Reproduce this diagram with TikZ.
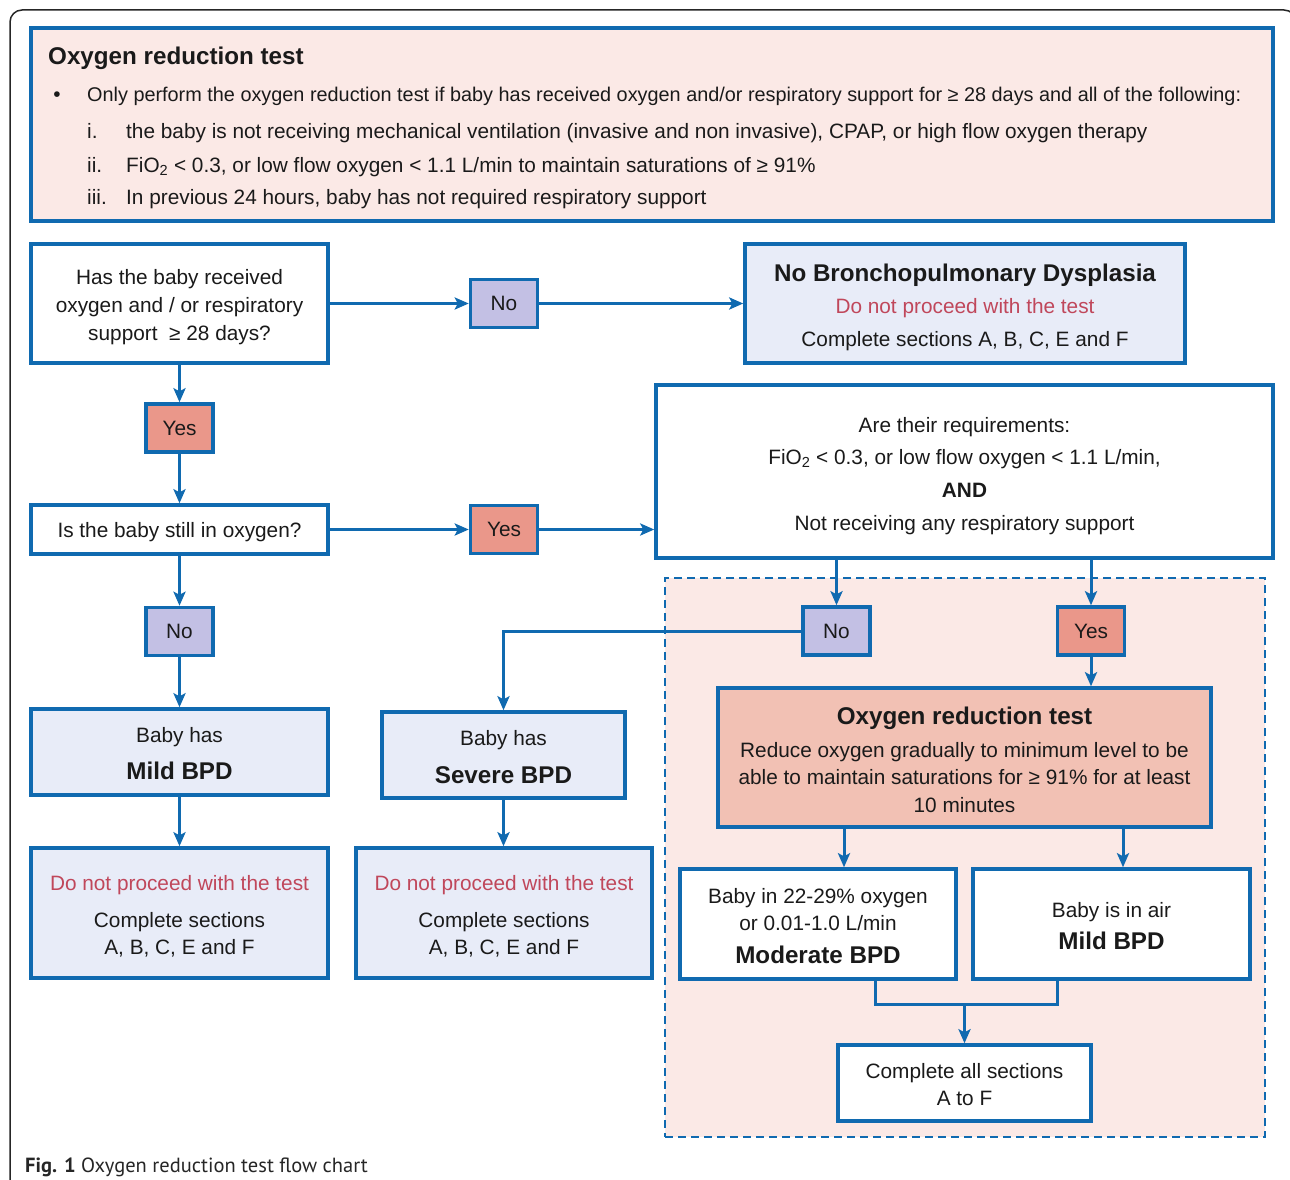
\documentclass[tikz,border=0pt]{standalone}
\usepackage{fontspec}
\setmainfont{Liberation Sans}
\newfontfamily\capfont{PT Sans}
\usetikzlibrary{arrows.meta,calc}
\definecolor{fblue}{RGB}{16,106,176}
\definecolor{pinkbg}{RGB}{251,233,230}
\definecolor{lav}{RGB}{195,192,228}
\definecolor{salmon}{RGB}{234,151,138}
\definecolor{lblue}{RGB}{232,236,248}
\definecolor{ortfill}{RGB}{242,193,180}
\definecolor{redtxt}{RGB}{192,71,91}
\definecolor{txt}{RGB}{26,26,26}
\begin{document}
\begin{tikzpicture}[x=1pt,y=-1pt,
 box/.style={draw=fblue, line width=3.5pt, rectangle, inner sep=0pt},
 tag/.style={box, minimum width=67pt, minimum height=48pt, font=\fontsize{20.8}{24}\selectfont, text=txt},
 yesbox/.style={tag, fill=salmon},
 nobox/.style={tag, fill=lav},
 arr/.style={draw=fblue, line width=3pt, -{Stealth[length=14pt,width=12pt,inset=3pt]}},
 lin/.style={draw=fblue, line width=3pt},
 t/.style={anchor=base, inner sep=0pt, text=txt, font=\fontsize{20.8}{24}\selectfont},
 tb/.style={t, font=\fontsize{24.2}{28}\selectfont\bfseries},
 tr/.style={t, text=redtxt},
]
\useasboundingbox (0,0) rectangle (1290,1180);
\fill[white] (0,0) rectangle (1290,1180);
% outer frame
\draw[line width=1.5pt, color=black!85, rounded corners=12pt] (10,1200) -- (10,10) -- (1296,10) -- (1296,1200);

% top box
\node[box, fill=pinkbg, minimum width=1242pt, minimum height=193pt] (top) at (652,124.5) {};
\node[tb, anchor=base west] (toptitle) at (48,65) {Oxygen reduction test};
\node[t] (bul) at (57,102) {•};
\node[t, anchor=base west, font=\fontsize{19.85}{24}\selectfont] (l0) at (87,102) {Only perform the oxygen reduction test if baby has received oxygen and/or respiratory support for ≥ 28 days and all of the following:};
\node[t, anchor=base west] (n1) at (87,139) {i.};
\node[t, anchor=base west] (l1) at (126,139) {the baby is not receiving mechanical ventilation (invasive and non invasive), CPAP, or high flow oxygen therapy};
\node[t, anchor=base west] (n2) at (87,172) {ii.};
\node[t, anchor=base west] (l2) at (126,172) {FiO\textsubscript{2} < 0.3, or low flow oxygen < 1.1 L/min to maintain saturations of ≥ 91\%};
\node[t, anchor=base west] (n3) at (87,204) {iii.};
\node[t, anchor=base west] (l3) at (126,204) {In previous 24 hours, baby has not required respiratory support};

% dashed region
\node[draw=fblue, fill=pinkbg, dash pattern=on 8pt off 5pt, line width=2.5pt, rectangle, minimum width=600pt, minimum height=559pt, inner sep=0pt] (region) at (965,857.5) {};

% box 1
\node[box, fill=white, minimum width=297pt, minimum height=119pt] (b1) at (179.5,303.5) {};
\node[t] (b1a) at (179.5,284) {Has the baby received};
\node[t] (b1b) at (179.5,312) {oxygen and / or respiratory};
\node[t] (b1c) at (179.5,340) {support \ ≥ 28 days?};

\node[nobox] (no1) at (504,303.5) {No};

% NBD
\node[box, fill=lblue, minimum width=440pt, minimum height=119pt] (nbd) at (965,303.5) {};
\node[tb] (nbda) at (965,281.5) {No Bronchopulmonary Dysplasia};
\node[tr] (nbdb) at (965,313) {Do not proceed with the test};
\node[t] (nbdc) at (965,346) {Complete sections A, B, C, E and F};

\node[yesbox] (yes1) at (179.5,428) {Yes};

% box 2
\node[box, fill=white, minimum width=297pt, minimum height=49pt] (b2) at (179.5,529.5) {};
\node[t] (b2a) at (179.5,537) {Is the baby still in oxygen?};

\node[yesbox] (yes2) at (504,529.5) {Yes};

% box 3
\node[box, fill=white, minimum width=617pt, minimum height=173pt] (b3) at (964.5,471.5) {};
\node[t] (b3a) at (964.5,432) {Are their requirements:};
\node[t] (b3b) at (964.5,464) {FiO\textsubscript{2} < 0.3, or low flow oxygen < 1.1 L/min,};
\node[t, font=\fontsize{20.8}{24}\selectfont\bfseries] (b3c) at (964.5,497) {AND};
\node[t] (b3d) at (964.5,530) {Not receiving any respiratory support};

\node[nobox] (no2) at (179.5,631.5) {No};
\node[nobox] (no3) at (836.5,631) {No};
\node[yesbox] (yes3) at (1091,631) {Yes};

% mild / severe
\node[box, fill=lblue, minimum width=297pt, minimum height=86pt] (mild) at (179.5,752) {};
\node[t] (milda) at (179.5,742) {Baby has};
\node[tb] (mildb) at (179.5,779.5) {Mild BPD};
\node[box, fill=lblue, minimum width=243pt, minimum height=86pt] (sev) at (503.5,755) {};
\node[t] (seva) at (503.5,745) {Baby has};
\node[tb] (sevb) at (503.5,783.5) {Severe BPD};

% do not proceed boxes
\node[box, fill=lblue, minimum width=297pt, minimum height=130pt] (dnp1) at (179.5,913) {};
\node[tr] (dnp1a) at (179.5,890) {Do not proceed with the test};
\node[t] (dnp1b) at (179.5,927) {Complete sections};
\node[t] (dnp1c) at (179.5,954) {A, B, C, E and F};
\node[box, fill=lblue, minimum width=296pt, minimum height=130pt] (dnp2) at (504,913) {};
\node[tr] (dnp2a) at (504,890) {Do not proceed with the test};
\node[t] (dnp2b) at (504,927) {Complete sections};
\node[t] (dnp2c) at (504,954) {A, B, C, E and F};

% oxygen reduction test
\node[box, fill=ortfill, minimum width=493pt, minimum height=139pt] (ort) at (964.5,757.5) {};
\node[tb] (orta) at (964.5,724.5) {Oxygen reduction test};
\node[t] (ortb) at (964.5,757) {Reduce oxygen gradually to minimum level to be};
\node[t] (ortc) at (964.5,784) {able to maintain saturations for ≥ 91\% for at least};
\node[t] (ortd) at (964.5,812) {10 minutes};

% outcomes
\node[box, fill=white, minimum width=276pt, minimum height=110pt] (mod) at (818,924) {};
\node[t] (moda) at (818,903) {Baby in 22-29\% oxygen};
\node[t] (modb) at (818,930) {or 0.01-1.0 L/min};
\node[tb] (modc) at (818,963.5) {Moderate BPD};
\node[box, fill=white, minimum width=277pt, minimum height=110pt] (air) at (1111.5,924) {};
\node[t] (aira) at (1111.5,917) {Baby is in air};
\node[tb] (airb) at (1111.5,949.5) {Mild BPD};

\node[box, fill=white, minimum width=253pt, minimum height=76pt] (comp) at (964.5,1083) {};
\node[t] (compa) at (964.5,1078) {Complete all sections};
\node[t] (compb) at (964.5,1105) {A to F};

% connectors
\draw[arr] (b1.east) -- (no1.west);
\draw[arr] (no1.east) -- (nbd.west);
\draw[arr] (b1.south) -- (yes1.north);
\draw[arr] (yes1.south) -- (b2.north);
\draw[arr] (b2.east) -- (yes2.west);
\draw[arr] (yes2.east) -- (yes2.east -| b3.west);
\draw[arr] (b2.south) -- (no2.north);
\draw[arr] (no2.south) -- (mild.north);
\draw[arr] (no3.north |- b3.south) -- (no3.north);
\draw[arr] (yes3.north |- b3.south) -- (yes3.north);
\draw[arr] (no3.west) -| (sev.north);
\draw[arr] (mild.south) -- (dnp1.north);
\draw[arr] (sev.south) -- (sev.south |- dnp2.north);
\draw[arr] (yes3.south) -- (yes3.south |- ort.north);
\coordinate (om) at (844,757.5);
\coordinate (oa) at (1123,757.5);
\draw[arr] (om |- ort.south) -- (om |- mod.north);
\draw[arr] (oa |- ort.south) -- (oa |- air.north);
\coordinate (jl) at (875,1004);
\coordinate (jr) at (1057,1004);
\draw[lin] (jl |- mod.south) -- (jl) -- (jr) -- (jr |- air.south);
\draw[arr] (comp.north |- jl) -- (comp.north);

% caption
\node[anchor=base west, inner sep=0pt, font=\capfont\fontsize{20.5}{24}\selectfont, text=black!85] (cap) at (25,1172) {\textbf{Fig. 1} Oxygen reduction test flow chart};
\end{tikzpicture}
\end{document}
